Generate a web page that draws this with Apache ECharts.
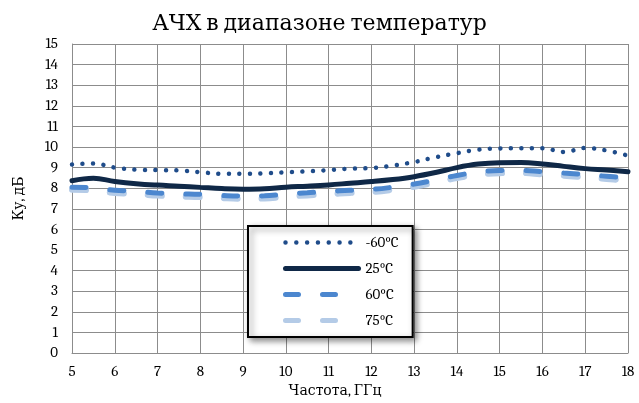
<!DOCTYPE html>
<html><head><meta charset="utf-8">
<script src="https://cdn.jsdelivr.net/npm/echarts@6/dist/echarts.min.js"></script>
<style>html,body{margin:0;padding:0;background:#fff}#c{width:639px;height:403px}</style>
</head><body><div id="c"></div>
<script>
var freq = [5,5.5,6,6.5,7,7.5,8,8.5,9,9.5,10,10.5,11,11.5,12,12.5,13,13.5,14,14.5,15,15.5,16,16.5,17,17.5,18];
var tM60 = [9.15,9.2,9.0,8.9,8.88,8.86,8.78,8.7,8.7,8.72,8.77,8.82,8.88,8.95,8.98,9.1,9.27,9.5,9.7,9.87,9.93,9.94,9.94,9.76,9.95,9.83,9.58];
var t25 = [8.36,8.48,8.33,8.22,8.15,8.1,8.04,7.98,7.95,7.97,8.05,8.1,8.16,8.24,8.32,8.42,8.56,8.76,9.0,9.17,9.24,9.25,9.18,9.06,8.95,8.88,8.8];
var t60 = [8.05,8.02,7.9,7.85,7.77,7.73,7.7,7.65,7.62,7.63,7.72,7.78,7.84,7.9,7.94,8.05,8.2,8.4,8.62,8.78,8.86,8.87,8.8,8.74,8.66,8.58,8.5];
var t75 = [7.92,7.89,7.77,7.72,7.64,7.6,7.57,7.52,7.49,7.5,7.59,7.65,7.71,7.77,7.81,7.92,8.07,8.27,8.49,8.65,8.73,8.74,8.67,8.61,8.53,8.45,8.37];
var names = ['-60°C','25°C','60°C','75°C'];
var font = 'Cambria, "DejaVu Serif", serif';
var cM60='#1f4c8a', c25='#0f2847', c60='#4c87cf', c75='#b4cbe7';
function pairs(a){ return freq.map(function(f,i){ return [f,a[i]]; }); }
var chart = echarts.init(document.getElementById('c'));
chart.setOption({
  animation:false,
  title:{text:'АЧХ в диапазоне температур',left:'center',top:8,textStyle:{fontFamily:font,fontSize:22,fontWeight:'normal',color:'#000'}},
  grid:{left:72,right:11,top:44,bottom:50},
  xAxis:{type:'value',min:5,max:18,interval:1,name:'Частота, ГГц',nameLocation:'middle',nameGap:30,
    nameTextStyle:{fontFamily:font,fontSize:14,color:'#000',padding:[0,30,0,0]},
    axisLine:{lineStyle:{color:'#8c8c8c',width:1}},axisTick:{show:false},
    axisLabel:{fontFamily:font,fontSize:15,color:'#000',margin:11},
    splitLine:{lineStyle:{color:'#8c8c8c',width:1}}},
  yAxis:{type:'value',min:0,max:15,interval:1,name:'Ку, дБ',nameLocation:'middle',nameGap:46,nameRotate:90,
    nameTextStyle:{fontFamily:font,fontSize:14,color:'#000'},
    axisLine:{show:true,lineStyle:{color:'#8c8c8c',width:1}},axisTick:{show:false},
    axisLabel:{fontFamily:font,fontSize:15,color:'#000',margin:14},
    splitLine:{lineStyle:{color:'#8c8c8c',width:1}}},
  legend:{orient:'vertical',left:248,top:226,width:110,
    padding:[9,14,9,35],itemWidth:73,itemHeight:15,itemGap:11,
    backgroundColor:'#fff',borderColor:'#000',borderWidth:2,
    shadowColor:'rgba(0,0,0,0.45)',shadowBlur:6,shadowOffsetX:3,shadowOffsetY:3,
    itemStyle:{opacity:0},
    textStyle:{fontFamily:font,fontSize:15,color:'#000',padding:[0,0,0,2]},
    data:[
      {name:names[0],lineStyle:{width:4.5,type:[0.01,10.8],cap:'round',color:cM60}},
      {name:names[1],lineStyle:{width:5,type:'solid',cap:'round',color:c25}},
      {name:names[2],lineStyle:{width:5,type:[13,24],cap:'round',color:c60}},
      {name:names[3],lineStyle:{width:5,type:[13,24],cap:'round',color:c75}}
    ]},
  series:[
    {name:names[3],type:'line',data:pairs(t75),smooth:0.4,showSymbol:false,symbol:'none',z:2,
      lineStyle:{color:c75,width:6,type:[14,24],cap:'round'},itemStyle:{color:c75}},
    {name:names[2],type:'line',data:pairs(t60),smooth:0.4,showSymbol:false,symbol:'none',z:3,
      lineStyle:{color:c60,width:5,type:[14,24],cap:'round'},itemStyle:{color:c60}},
    {name:names[1],type:'line',data:pairs(t25),smooth:0.4,showSymbol:false,symbol:'none',z:4,
      lineStyle:{color:c25,width:5,cap:'round'},itemStyle:{color:c25}},
    {name:names[0],type:'line',data:pairs(tM60),smooth:0.4,showSymbol:false,symbol:'none',z:5,
      lineStyle:{color:cM60,width:4.5,type:[0.01,10.5],cap:'round'},itemStyle:{color:cM60}}
  ]
});
</script></body></html>
